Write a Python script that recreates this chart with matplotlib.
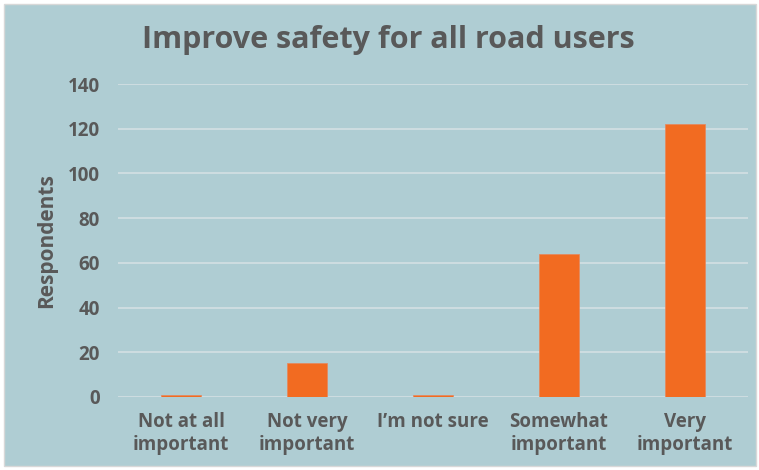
import matplotlib
matplotlib.use("Agg")
import matplotlib.pyplot as plt
from matplotlib.patches import Rectangle

categories = ["Not at all\nimportant", "Not very\nimportant", "I\u2019m not sure", "Somewhat\nimportant", "Very\nimportant"]
values = [1, 15, 1, 64, 122]
yticks = [0, 20, 40, 60, 80, 100, 120, 140]

bg = "#afcdd3"
txt = "#595959"
bar_color = "#f26b21"

plt.rcParams['font.family'] = ['Open Sans', 'DejaVu Sans']

fig = plt.figure(figsize=(7.59, 4.70), dpi=100)
fig.patch.set_facecolor("white")
fig.patches.append(Rectangle((4/759, 4/470), 752/759, 462/470, transform=fig.transFigure,
                             facecolor=bg, edgecolor="#d8d8d8", linewidth=1, zorder=-10))

ax = fig.add_axes([118/759, 1-397/470, 630/759, 313/470])
ax.set_facecolor("none")
x = range(len(categories))
ax.bar(x, values, width=0.31, color=bar_color, zorder=3, edgecolor="#e8865a", linewidth=0.5)
ax.set_xlim(-0.5, len(categories)-0.5)
ax.set_ylim(0, 140)
ax.set_yticks(yticks)
ax.set_yticklabels([str(t) for t in yticks], fontsize=13.5, fontweight="bold", color=txt)
ax.set_xticks(list(x))
ax.set_xticklabels(categories, fontsize=13.5, fontweight="bold", color=txt, linespacing=1.15)
ax.tick_params(axis="both", length=0)
ax.tick_params(axis="y", pad=13)
ax.tick_params(axis="x", pad=11)
ax.grid(axis="y", color="#d4e0e3", linewidth=1.2, zorder=0)
for s in ax.spines.values():
    s.set_visible(False)
ax.set_ylabel("Respondents", fontsize=15, fontweight="bold", color=txt, labelpad=8)

fig.text(388/759, 1-40/470, "Improve safety for all road users", ha="center", va="center",
         fontsize=22, fontweight="bold", color=txt)

fig.savefig("out.png", dpi=100, facecolor=fig.get_facecolor())
